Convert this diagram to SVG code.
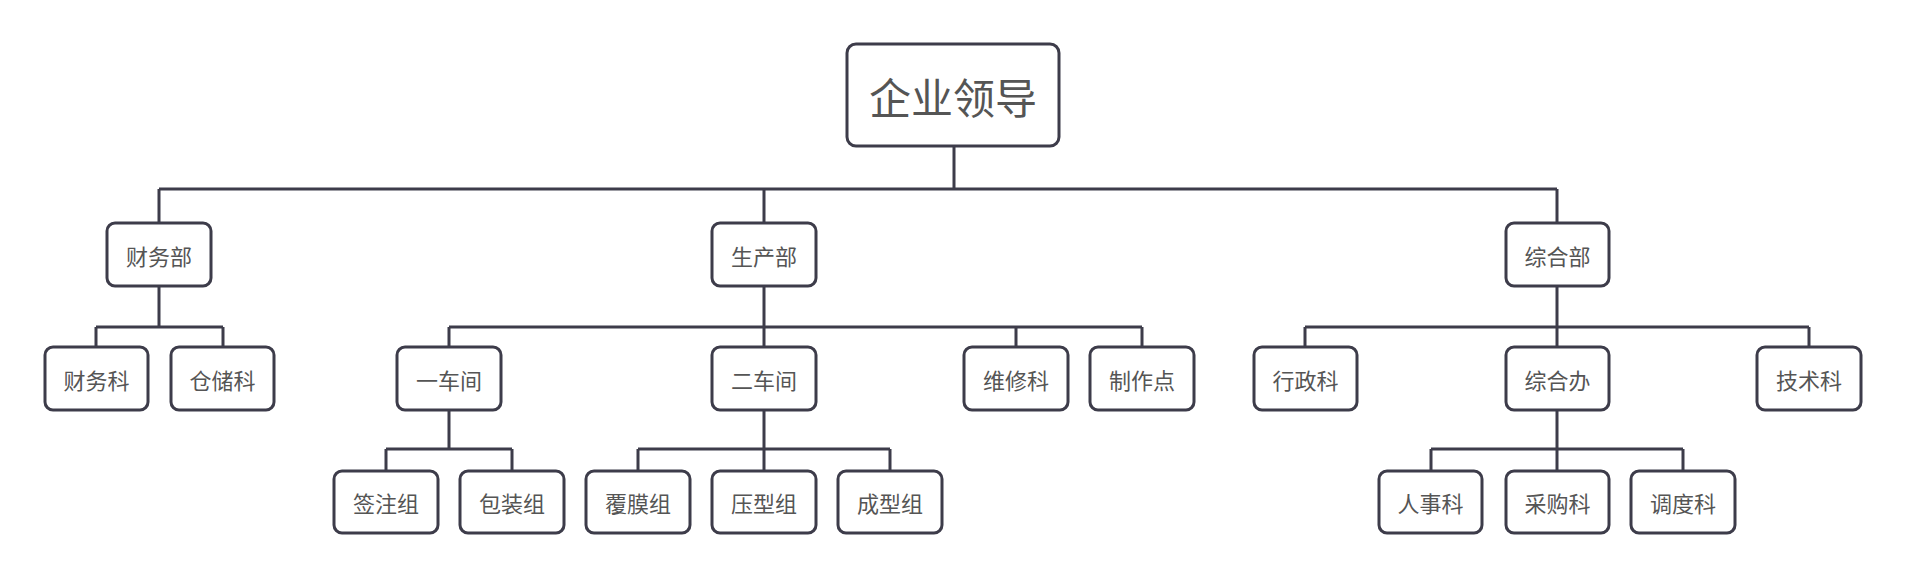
<svg xmlns="http://www.w3.org/2000/svg" width="1906" height="579" viewBox="0 0 1906 579">
<style>
  .box { fill: #ffffff; stroke: #3d3c4a; stroke-width: 3; }
  .t { font-family: "Noto Sans CJK SC", "Noto Sans", sans-serif; font-size: 22px; fill: #555555; text-anchor: middle; dominant-baseline: central; }
  .big { font-size: 42px; }
  .c { fill: none; stroke: #3d3c4a; stroke-width: 3; stroke-linejoin: miter; }
</style>
<rect width="1906" height="579" fill="#ffffff"/>
<g id="connectors">
  <path class="c" d="M954 146 V189 M159 189 H1557 M159 189 V223 M764 189 V223 M1557 189 V223"/>
  <path class="c" d="M159 286 V327 M96 327 H223 M96 327 V347 M223 327 V347"/>
  <path class="c" d="M764 286 V347 M449 327 H1142 M449 327 V347 M1016 327 V347 M1142 327 V347"/>
  <path class="c" d="M449 410 V449 M386 449 H512 M386 449 V471 M512 449 V471"/>
  <path class="c" d="M764 410 V471 M638 449 H890 M638 449 V471 M890 449 V471"/>
  <path class="c" d="M1557 286 V347 M1305 327 H1809 M1305 327 V347 M1809 327 V347"/>
  <path class="c" d="M1557 410 V471 M1431 449 H1683 M1431 449 V471 M1683 449 V471"/>
</g>
<g id="n-root"><rect class="box" x="847" y="44" width="212" height="102" rx="9"/><text class="t big" x="953" y="95">企业领导</text></g>
<g id="n-cwb"><rect class="box" x="107" y="223" width="104" height="63" rx="8"/><text class="t" x="159" y="254.5">财务部</text></g>
<g id="n-scb"><rect class="box" x="712" y="223" width="104" height="63" rx="8"/><text class="t" x="764" y="254.5">生产部</text></g>
<g id="n-zhb"><rect class="box" x="1506" y="223" width="103" height="63" rx="8"/><text class="t" x="1557.5" y="254.5">综合部</text></g>
<g id="n-cwk"><rect class="box" x="45" y="347" width="103" height="63" rx="8"/><text class="t" x="96.5" y="378.5">财务科</text></g>
<g id="n-cck"><rect class="box" x="171" y="347" width="103" height="63" rx="8"/><text class="t" x="222.5" y="378.5">仓储科</text></g>
<g id="n-ycj"><rect class="box" x="397" y="347" width="104" height="63" rx="8"/><text class="t" x="449" y="378.5">一车间</text></g>
<g id="n-ecj"><rect class="box" x="712" y="347" width="104" height="63" rx="8"/><text class="t" x="764" y="378.5">二车间</text></g>
<g id="n-wxk"><rect class="box" x="964" y="347" width="104" height="63" rx="8"/><text class="t" x="1016" y="378.5">维修科</text></g>
<g id="n-zzd"><rect class="box" x="1090" y="347" width="104" height="63" rx="8"/><text class="t" x="1142" y="378.5">制作点</text></g>
<g id="n-xzk"><rect class="box" x="1254" y="347" width="103" height="63" rx="8"/><text class="t" x="1305.5" y="378.5">行政科</text></g>
<g id="n-zhbg"><rect class="box" x="1506" y="347" width="103" height="63" rx="8"/><text class="t" x="1557.5" y="378.5">综合办</text></g>
<g id="n-jsk"><rect class="box" x="1757" y="347" width="104" height="63" rx="8"/><text class="t" x="1809" y="378.5">技术科</text></g>
<g id="n-qzz"><rect class="box" x="334" y="471" width="104" height="62" rx="8"/><text class="t" x="386" y="502">签注组</text></g>
<g id="n-bzz"><rect class="box" x="460" y="471" width="104" height="62" rx="8"/><text class="t" x="512" y="502">包装组</text></g>
<g id="n-fmz"><rect class="box" x="586" y="471" width="104" height="62" rx="8"/><text class="t" x="638" y="502">覆膜组</text></g>
<g id="n-yxz"><rect class="box" x="712" y="471" width="104" height="62" rx="8"/><text class="t" x="764" y="502">压型组</text></g>
<g id="n-cxz"><rect class="box" x="838" y="471" width="104" height="62" rx="8"/><text class="t" x="890" y="502">成型组</text></g>
<g id="n-rsk"><rect class="box" x="1379" y="471" width="103" height="62" rx="8"/><text class="t" x="1430.5" y="502">人事科</text></g>
<g id="n-cgk"><rect class="box" x="1506" y="471" width="103" height="62" rx="8"/><text class="t" x="1557.5" y="502">采购科</text></g>
<g id="n-ddk"><rect class="box" x="1631" y="471" width="104" height="62" rx="8"/><text class="t" x="1683" y="502">调度科</text></g>
</svg>
